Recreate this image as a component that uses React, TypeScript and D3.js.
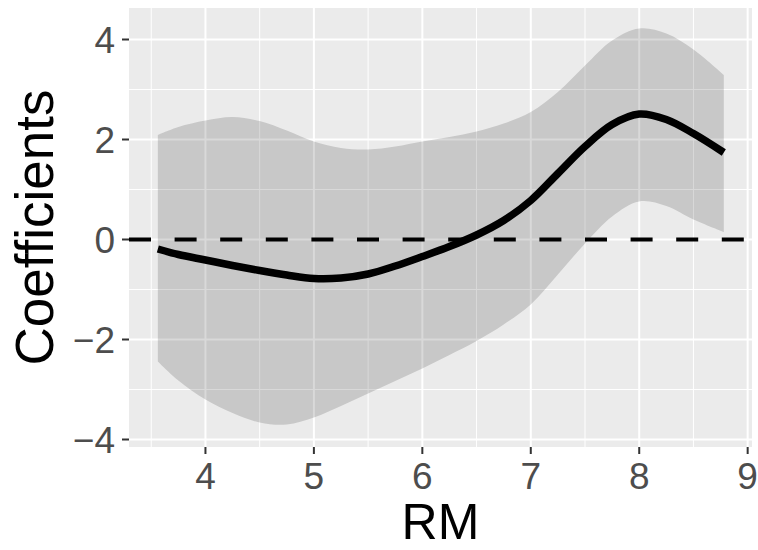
import React, { useEffect, useRef } from 'react'
import * as d3 from 'd3'

// RM grid and smooth coefficient with its confidence band
const rm = [3.561, 3.75, 4.0, 4.25, 4.5, 4.75, 5.0, 5.25, 5.5, 5.75, 6.0, 6.25, 6.5, 6.75, 7.0, 7.25, 7.5, 7.75, 8.0, 8.25, 8.5, 8.78]
const coef = [-0.19, -0.3, -0.41, -0.52, -0.62, -0.71, -0.78, -0.77, -0.69, -0.53, -0.34, -0.14, 0.09, 0.38, 0.78, 1.32, 1.86, 2.3, 2.51, 2.4, 2.12, 1.74]
const upper = [2.09, 2.25, 2.38, 2.45, 2.37, 2.18, 1.96, 1.83, 1.8, 1.86, 1.96, 2.05, 2.16, 2.32, 2.55, 2.95, 3.48, 3.98, 4.22, 4.12, 3.8, 3.29]
const lower = [-2.44, -2.82, -3.2, -3.47, -3.66, -3.7, -3.56, -3.33, -3.08, -2.83, -2.58, -2.31, -2.03, -1.7, -1.3, -0.7, -0.08, 0.46, 0.76, 0.67, 0.4, 0.15]

const xTicks = [4, 5, 6, 7, 8, 9]
const xMinor = [3.5, 4.5, 5.5, 6.5, 7.5, 8.5]
const yTicks = [-4, -2, 0, 2, 4]
const yMinor = [-3, -1, 1, 3]

const App = () => {
  const ref = useRef<SVGSVGElement>(null)
  const width = 758
  const height = 550
  const panel = { left: 129, right: 752, top: 8, bottom: 447 }

  useEffect(() => {
    const svg = d3.select(ref.current)
    svg.selectAll('*').remove()

    const x = d3.scaleLinear().domain([3.295, 9.04]).range([panel.left, panel.right])
    const y = d3.scaleLinear().domain([-4.15, 4.63]).range([panel.bottom, panel.top])

    const rows = rm.map((r, i) => ({ r, c: coef[i], lo: lower[i], hi: upper[i] }))

    svg.append('rect')
      .attr('x', panel.left).attr('y', panel.top)
      .attr('width', panel.right - panel.left).attr('height', panel.bottom - panel.top)
      .attr('fill', '#EBEBEB')

    const grid = svg.append('g')
    xMinor.forEach(v => grid.append('line')
      .attr('x1', x(v)).attr('x2', x(v)).attr('y1', panel.top).attr('y2', panel.bottom)
      .attr('stroke', 'white').attr('stroke-width', 1))
    yMinor.forEach(v => grid.append('line')
      .attr('x1', panel.left).attr('x2', panel.right).attr('y1', y(v)).attr('y2', y(v))
      .attr('stroke', 'white').attr('stroke-width', 1))
    xTicks.forEach(v => grid.append('line')
      .attr('x1', x(v)).attr('x2', x(v)).attr('y1', panel.top).attr('y2', panel.bottom)
      .attr('stroke', 'white').attr('stroke-width', 2))
    yTicks.forEach(v => grid.append('line')
      .attr('x1', panel.left).attr('x2', panel.right).attr('y1', y(v)).attr('y2', y(v))
      .attr('stroke', 'white').attr('stroke-width', 2))

    const band = d3.area<any>()
      .x(d => x(d.r))
      .y0(d => y(d.lo))
      .y1(d => y(d.hi))
      .curve(d3.curveCatmullRom.alpha(0.5))

    svg.append('path')
      .datum(rows)
      .attr('d', band)
      .attr('fill', 'black')
      .attr('fill-opacity', 0.15)

    svg.append('line')
      .attr('x1', panel.left).attr('x2', panel.right)
      .attr('y1', y(0)).attr('y2', y(0))
      .attr('stroke', 'black').attr('stroke-width', 4)
      .attr('stroke-dasharray', '22 23.6')

    const line = d3.line<any>()
      .x(d => x(d.r))
      .y(d => y(d.c))
      .curve(d3.curveCatmullRom.alpha(0.5))

    svg.append('path')
      .datum(rows)
      .attr('d', line)
      .attr('fill', 'none')
      .attr('stroke', 'black')
      .attr('stroke-width', 7.5)

    // axes, ggplot style
    const font = 'Liberation Sans, Arial, sans-serif'
    const ax = svg.append('g')
    xTicks.forEach(v => {
      ax.append('line')
        .attr('x1', x(v)).attr('x2', x(v)).attr('y1', panel.bottom).attr('y2', panel.bottom + 7)
        .attr('stroke', '#333333').attr('stroke-width', 2)
      ax.append('text')
        .attr('x', x(v)).attr('y', 489)
        .attr('text-anchor', 'middle')
        .attr('font-family', font).attr('font-size', 37)
        .attr('fill', '#4D4D4D')
        .text(String(v))
    })
    yTicks.forEach(v => {
      ax.append('line')
        .attr('x1', panel.left - 7).attr('x2', panel.left).attr('y1', y(v)).attr('y2', y(v))
        .attr('stroke', '#333333').attr('stroke-width', 2)
      ax.append('text')
        .attr('x', 115).attr('y', y(v) + 13.5)
        .attr('text-anchor', 'end')
        .attr('font-family', font).attr('font-size', 37)
        .attr('fill', '#4D4D4D')
        .text(v < 0 ? '\u2212' + Math.abs(v) : String(v))
    })

    svg.append('text')
      .attr('x', (panel.left + panel.right) / 2).attr('y', 539)
      .attr('text-anchor', 'middle')
      .attr('font-family', font).attr('font-size', 50)
      .attr('fill', 'black')
      .text('RM')

    svg.append('text')
      .attr('transform', `translate(53, ${(panel.top + panel.bottom) / 2}) rotate(-90)`)
      .attr('text-anchor', 'middle')
      .attr('font-family', font).attr('font-size', 53)
      .attr('fill', 'black')
      .text('Coefficients')
  })

  return (
    <svg ref={ref} width={width} height={height}
      style={{ position: 'absolute', left: 0, top: 0, background: 'white' }} />
  )
}

export default App
